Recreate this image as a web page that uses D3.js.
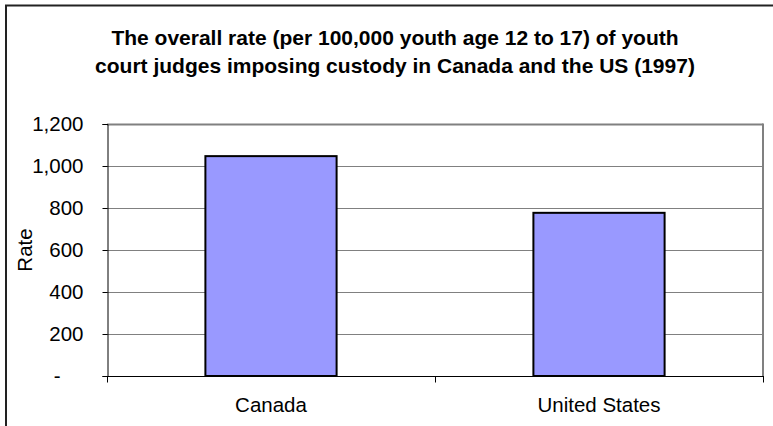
<!DOCTYPE html>
<html>
<head>
<meta charset="utf-8">
<script src="https://cdn.jsdelivr.net/npm/d3@7/dist/d3.min.js"></script>
<style>
  html, body { margin: 0; padding: 0; background: #fff; }
  svg { display: block; font-family: Arial, "Liberation Sans", sans-serif; }
</style>
</head>
<body>
<svg id="chart" width="773" height="426"></svg>
<script>
// Custody rates per 100,000 youth aged 12-17, 1997
const countries = ["Canada", "United States"];
const rates = [1047, 777];
const yTicks = [0, 200, 400, 600, 800, 1000, 1200];
const titleLines = [
  "The overall rate (per 100,000 youth age 12 to 17) of youth",
  "court judges imposing custody in Canada and the US (1997)"
];
const yLabel = "Rate";

const svg = d3.select("#chart");
const plot = { left: 107, right: 763, top: 124, bottom: 376 };

// chart frame (runs off the right and bottom edges)
svg.append("rect")
  .attr("x", 6).attr("y", 5.5)
  .attr("width", 820).attr("height", 460)
  .attr("fill", "#fff")
  .attr("stroke", "#222").attr("stroke-width", 2);

// title
svg.append("g")
  .selectAll("text")
  .data(titleLines)
  .join("text")
  .attr("x", 395)
  .attr("y", (d, i) => 45 + i * 28)
  .attr("text-anchor", "middle")
  .attr("font-size", 21)
  .attr("font-weight", "bold")
  .attr("fill", "#000")
  .text(d => d);

const x = d3.scaleBand()
  .domain(countries)
  .range([plot.left, plot.right])
  .paddingInner(0.6)
  .paddingOuter(0.3);

const y = d3.scaleLinear()
  .domain([0, 1200])
  .range([plot.bottom, plot.top]);

// horizontal gridlines
svg.append("g")
  .selectAll("line")
  .data(yTicks.filter(t => t > 0))
  .join("line")
  .attr("x1", plot.left).attr("x2", plot.right)
  .attr("y1", d => Math.round(y(d)) + 0.5)
  .attr("y2", d => Math.round(y(d)) + 0.5)
  .attr("stroke", "#808080")
  .attr("stroke-width", d => d === 1200 ? 2 : 1);

// right edge of plot area
svg.append("line")
  .attr("x1", plot.right).attr("x2", plot.right)
  .attr("y1", plot.top - 0.5).attr("y2", plot.bottom)
  .attr("stroke", "#808080").attr("stroke-width", 2);

// bars
svg.append("g")
  .selectAll("rect")
  .data(countries.map((c, i) => ({ c, v: rates[i] })))
  .join("rect")
  .attr("x", d => x(d.c))
  .attr("y", d => y(d.v))
  .attr("width", x.bandwidth())
  .attr("height", d => y(0) - y(d.v))
  .attr("fill", "#9999FF")
  .attr("stroke", "#000")
  .attr("stroke-width", 2);

// y axis
const yAxis = d3.axisLeft(y)
  .tickValues(yTicks)
  .tickSize(5)
  .tickPadding(19)
  .tickFormat(d => d === 0 ? "-" : d3.format(",")(d));

const gy = svg.append("g")
  .attr("transform", `translate(${plot.left + 0.5},0)`)
  .call(yAxis);
gy.select(".domain").attr("stroke", "#000");
gy.selectAll(".tick line").attr("stroke", "#000");
gy.selectAll(".tick text")
  .attr("font-size", 20.5)
  .attr("font-family", "Arial, 'Liberation Sans', sans-serif")
  .attr("fill", "#000")
  .attr("dx", d => d === 0 ? -23 : 0);

// x axis with tick marks at band boundaries
const gx = svg.append("g")
  .attr("transform", `translate(0,${plot.bottom + 0.5})`);
gx.append("line")
  .attr("x1", plot.left).attr("x2", plot.right + 1)
  .attr("stroke", "#000");
const bounds = [plot.left, plot.left + x.step(), plot.right];
gx.selectAll(".bt")
  .data(bounds)
  .join("line")
  .attr("class", "bt")
  .attr("x1", d => Math.round(d) + 0.5).attr("x2", d => Math.round(d) + 0.5)
  .attr("y1", 0).attr("y2", 6)
  .attr("stroke", "#000");
gx.selectAll(".cat")
  .data(countries)
  .join("text")
  .attr("class", "cat")
  .attr("x", d => x(d) + x.bandwidth() / 2)
  .attr("y", 35)
  .attr("text-anchor", "middle")
  .attr("font-size", 20.5)
  .attr("fill", "#000")
  .text(d => d);

// y axis title
svg.append("text")
  .attr("transform", `translate(32,${(plot.top + plot.bottom) / 2}) rotate(-90)`)
  .attr("text-anchor", "middle")
  .attr("font-size", 20.5)
  .attr("fill", "#000")
  .text(yLabel);
</script>
</body>
</html>
